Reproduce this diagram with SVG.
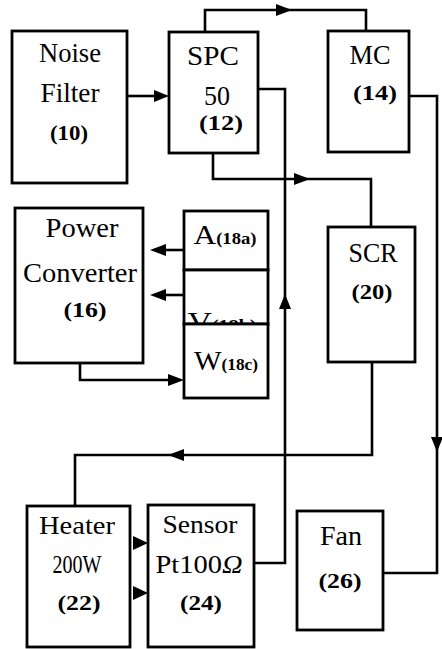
<svg xmlns="http://www.w3.org/2000/svg" width="442" height="649" viewBox="0 0 442 649">
<style>
.box{fill:#fff;stroke:#000;stroke-width:2.8}
.ln{fill:none;stroke:#000;stroke-width:2.6;stroke-linejoin:miter}
.ah{fill:#000;stroke:none}
.t{font-family:"Liberation Serif","Times New Roman",serif;font-size:27px;fill:#000;text-anchor:middle}
.n{font-family:"Liberation Serif","Times New Roman",serif;font-size:22px;font-weight:bold;fill:#000;text-anchor:middle}
.s{font-size:16px;font-weight:bold}
.m{font-family:"Liberation Serif","Times New Roman",serif;font-size:25px;fill:#000;text-anchor:middle}
</style>
<rect width="442" height="649" fill="#fff"/>
<g id="connectors">
<path class="ln" d="M127,96 H158"/>
<polygon class="ah" points="169,96 154,90 154,102"/>
<path class="ln" d="M205,32 V10 H366 V31"/>
<polygon class="ah" points="292,10 276,4 276,16"/>
<path class="ln" d="M213,153 V179 H371 V227"/>
<polygon class="ah" points="310,179 294,173 294,185"/>
<path class="ln" d="M254,563 H285 V89 H258"/>
<polygon class="ah" points="285,294 279,309 291,309"/>
<path class="ln" d="M409,96 H437 V573 H383"/>
<polygon class="ah" points="437,452 431,437 443,437"/>
<path class="ln" d="M372,362 V455 H75 V506"/>
<polygon class="ah" points="168,455 184,449 184,461"/>
<path class="ln" d="M184,250 H162"/>
<polygon class="ah" points="150,250 166,244 166,256"/>
<path class="ln" d="M184,295 H162"/>
<polygon class="ah" points="150,295 166,289 166,301"/>
<path class="ln" d="M80,363 V380 H172"/>
<polygon class="ah" points="184,380 168,374 168,386"/>
<polygon class="ah" points="148,543 133,536 133,550"/>
<polygon class="ah" points="148,593 133,586 133,600"/>
</g>
<g id="noise-filter">
<rect class="box" x="12" y="31" width="115" height="152"/>
<text class="t" x="70" y="62" textLength="62" lengthAdjust="spacingAndGlyphs">Noise</text>
<text class="t" x="70" y="102" textLength="59" lengthAdjust="spacingAndGlyphs">Filter</text>
<text class="n" x="69" y="140" textLength="38" lengthAdjust="spacingAndGlyphs">(10)</text>
</g>
<g id="spc">
<rect class="box" x="169" y="32" width="89" height="121"/>
<text class="t" x="213" y="65" textLength="52" lengthAdjust="spacingAndGlyphs">SPC</text>
<text class="t" x="217" y="105" font-size="27" textLength="26" lengthAdjust="spacingAndGlyphs">50</text>
<text class="n" x="221" y="130" font-size="20" textLength="44" lengthAdjust="spacingAndGlyphs">(12)</text>
</g>
<g id="mc">
<rect class="box" x="328" y="31" width="81" height="121"/>
<text class="t" x="370" y="64" textLength="41" lengthAdjust="spacingAndGlyphs">MC</text>
<text class="n" x="375" y="100" textLength="44" lengthAdjust="spacingAndGlyphs">(14)</text>
</g>
<g id="power-converter">
<rect class="box" x="15" y="208" width="128" height="155"/>
<text class="t" x="82" y="237" font-size="25" textLength="73" lengthAdjust="spacingAndGlyphs">Power</text>
<text class="t" x="80" y="282" font-size="25" textLength="114" lengthAdjust="spacingAndGlyphs">Converter</text>
<text class="n" x="85" y="317" textLength="43" lengthAdjust="spacingAndGlyphs">(16)</text>
</g>
<g id="meter-a">
<rect class="box" x="184" y="211" width="84" height="59"/>
<text class="t" x="225" y="244" textLength="63" lengthAdjust="spacingAndGlyphs">A<tspan class="s">(18a)</tspan></text>
</g>
<g id="meter-v">
<rect class="box" x="184" y="270" width="84" height="54"/>
<text class="t" x="222" y="331" textLength="69" lengthAdjust="spacingAndGlyphs">V<tspan class="s">(18b)</tspan></text>
</g>
<g id="meter-w">
<rect class="box" x="184" y="324" width="84" height="74"/>
<text class="t" x="226" y="370" textLength="64" lengthAdjust="spacingAndGlyphs">W<tspan class="s">(18c)</tspan></text>
</g>
<g id="scr">
<rect class="box" x="328" y="227" width="87" height="135"/>
<text class="t" x="373" y="262" textLength="49" lengthAdjust="spacingAndGlyphs">SCR</text>
<text class="n" x="372" y="299" textLength="41" lengthAdjust="spacingAndGlyphs">(20)</text>
</g>
<g id="heater">
<rect class="box" x="27" y="506" width="103" height="141"/>
<text class="m" x="77" y="534" textLength="76" lengthAdjust="spacingAndGlyphs">Heater</text>
<text class="m" x="77" y="573" textLength="49" lengthAdjust="spacingAndGlyphs">200W</text>
<text class="n" x="79" y="610" textLength="43" lengthAdjust="spacingAndGlyphs">(22)</text>
</g>
<g id="sensor">
<rect class="box" x="148" y="505" width="106" height="142"/>
<text class="m" x="200" y="533" textLength="75" lengthAdjust="spacingAndGlyphs">Sensor</text>
<text class="m" x="199" y="573" textLength="87" lengthAdjust="spacingAndGlyphs">Pt100<tspan font-style="italic">Ω</tspan></text>
<text class="n" x="201" y="610" textLength="42" lengthAdjust="spacingAndGlyphs">(24)</text>
</g>
<g id="fan">
<rect class="box" x="297" y="511" width="86" height="119"/>
<text class="t" x="341" y="545" textLength="42" lengthAdjust="spacingAndGlyphs">Fan</text>
<text class="n" x="340" y="588" textLength="43" lengthAdjust="spacingAndGlyphs">(26)</text>
</g>
</svg>
